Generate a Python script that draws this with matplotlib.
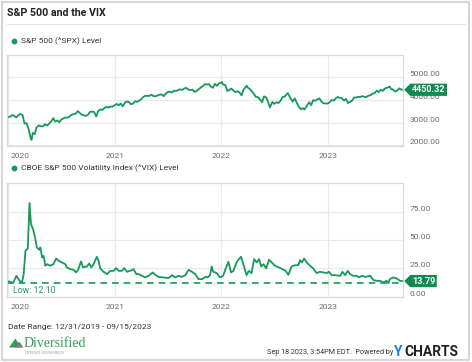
import matplotlib
matplotlib.use("Agg")
import matplotlib.pyplot as plt
import pandas as pd
from matplotlib.path import Path
from matplotlib.lines import Line2D
from matplotlib.patches import Rectangle, Polygon
from matplotlib.transforms import ScaledTranslation

plt.rcParams['font.family'] = ['Roboto', 'DejaVu Sans']

# S&P 500 level (roughly weekly)
spx_dates = [
    '2019-12-31', '2020-01-10', '2020-01-17', '2020-01-24', '2020-01-31', '2020-02-07', '2020-02-14',
    '2020-02-21', '2020-02-28', '2020-03-06', '2020-03-13', '2020-03-20', '2020-03-23', '2020-03-27',
    '2020-04-03', '2020-04-09', '2020-04-17', '2020-04-24', '2020-05-01', '2020-05-08', '2020-05-15',
    '2020-05-22', '2020-05-29', '2020-06-05', '2020-06-12', '2020-06-19', '2020-06-26', '2020-07-02',
    '2020-07-10', '2020-07-17', '2020-07-24', '2020-07-31', '2020-08-07', '2020-08-14', '2020-08-21',
    '2020-08-28', '2020-09-04', '2020-09-11', '2020-09-18', '2020-09-25', '2020-10-02', '2020-10-09',
    '2020-10-16', '2020-10-23', '2020-10-30', '2020-11-06', '2020-11-13', '2020-11-20', '2020-11-27',
    '2020-12-04', '2020-12-11', '2020-12-18', '2020-12-24', '2020-12-31',
    '2021-01-08', '2021-01-15', '2021-01-22', '2021-01-29', '2021-02-05', '2021-02-12', '2021-02-19',
    '2021-02-26', '2021-03-05', '2021-03-12', '2021-03-19', '2021-03-26', '2021-04-01', '2021-04-09',
    '2021-04-16', '2021-04-23', '2021-04-30', '2021-05-07', '2021-05-14', '2021-05-21', '2021-05-28',
    '2021-06-04', '2021-06-11', '2021-06-18', '2021-06-25', '2021-07-02', '2021-07-09', '2021-07-16',
    '2021-07-23', '2021-07-30', '2021-08-06', '2021-08-13', '2021-08-20', '2021-08-27', '2021-09-03',
    '2021-09-10', '2021-09-17', '2021-09-24', '2021-10-01', '2021-10-08', '2021-10-15', '2021-10-22',
    '2021-10-29', '2021-11-05', '2021-11-12', '2021-11-19', '2021-11-26', '2021-12-03', '2021-12-10',
    '2021-12-17', '2021-12-23', '2021-12-31',
    '2022-01-03', '2022-01-07', '2022-01-14', '2022-01-21', '2022-01-28', '2022-02-04', '2022-02-11',
    '2022-02-18', '2022-02-25', '2022-03-04', '2022-03-11', '2022-03-18', '2022-03-29', '2022-04-01',
    '2022-04-08', '2022-04-14', '2022-04-22', '2022-04-29', '2022-05-06', '2022-05-13', '2022-05-20',
    '2022-05-27', '2022-06-03', '2022-06-10', '2022-06-16', '2022-06-24', '2022-07-01', '2022-07-08',
    '2022-07-15', '2022-07-22', '2022-07-29', '2022-08-05', '2022-08-16', '2022-08-19', '2022-08-26',
    '2022-09-02', '2022-09-09', '2022-09-16', '2022-09-23', '2022-09-30', '2022-10-07', '2022-10-12',
    '2022-10-21', '2022-10-28', '2022-11-04', '2022-11-11', '2022-11-18', '2022-11-25', '2022-12-02',
    '2022-12-09', '2022-12-16', '2022-12-23', '2022-12-30',
    '2023-01-06', '2023-01-13', '2023-01-20', '2023-01-27', '2023-02-03', '2023-02-10', '2023-02-17',
    '2023-02-24', '2023-03-03', '2023-03-10', '2023-03-17', '2023-03-24', '2023-03-31', '2023-04-06',
    '2023-04-14', '2023-04-21', '2023-04-28', '2023-05-05', '2023-05-12', '2023-05-19', '2023-05-26',
    '2023-06-02', '2023-06-09', '2023-06-16', '2023-06-23', '2023-06-30', '2023-07-07', '2023-07-14',
    '2023-07-21', '2023-07-31', '2023-08-04', '2023-08-11', '2023-08-18', '2023-08-25', '2023-09-01',
    '2023-09-08', '2023-09-15',
]
spx_values = [
    3231, 3265, 3330, 3295, 3226, 3328, 3380,
    3338, 2954, 2972, 2711, 2305, 2237, 2541,
    2489, 2790, 2875, 2837, 2831, 2930, 2864,
    2955, 3044, 3194, 3041, 3098, 3009, 3130,
    3185, 3225, 3216, 3271, 3351, 3373, 3397,
    3508, 3427, 3341, 3319, 3298, 3348, 3477,
    3484, 3465, 3270, 3509, 3585, 3558, 3638,
    3699, 3663, 3709, 3703, 3756,
    3825, 3768, 3841, 3714, 3887, 3934, 3907,
    3811, 3842, 3943, 3913, 3975, 4020, 4129,
    4185, 4180, 4181, 4233, 4174, 4156, 4204,
    4230, 4247, 4166, 4281, 4352, 4370, 4327,
    4412, 4395, 4437, 4468, 4442, 4509, 4535,
    4459, 4433, 4455, 4357, 4391, 4471, 4545,
    4605, 4698, 4683, 4698, 4595, 4538, 4712,
    4620, 4726, 4766,
    4797, 4677, 4663, 4398, 4432, 4501, 4419,
    4349, 4385, 4329, 4204, 4463, 4631, 4546,
    4488, 4393, 4272, 4132, 4123, 4024, 3901,
    4158, 4109, 3901, 3667, 3912, 3825, 3899,
    3863, 3962, 4130, 4145, 4305, 4228, 4058,
    3924, 4067, 3873, 3693, 3586, 3640, 3577,
    3753, 3901, 3771, 3993, 3965, 4026, 4072,
    3934, 3852, 3845, 3840,
    3895, 3999, 3973, 4070, 4136, 4090, 4079,
    3970, 4046, 3862, 3917, 3971, 4109, 4105,
    4138, 4133, 4169, 4136, 4124, 4192, 4205,
    4282, 4299, 4410, 4348, 4450, 4399, 4505,
    4536, 4589, 4478, 4464, 4370, 4406, 4516,
    4457, 4450.32,
]

# CBOE VIX level
vix_dates = [
    '2019-12-31', '2020-01-10', '2020-01-20', '2020-01-31', '2020-02-11', '2020-02-19', '2020-02-25',
    '2020-03-02', '2020-03-10', '2020-03-16', '2020-03-21', '2020-03-28', '2020-04-05', '2020-04-10',
    '2020-04-18', '2020-04-22', '2020-04-28', '2020-05-03', '2020-05-09', '2020-05-15', '2020-05-26',
    '2020-06-06', '2020-06-15', '2020-06-23', '2020-07-05', '2020-07-16', '2020-07-22', '2020-08-02',
    '2020-08-14', '2020-08-22', '2020-08-29', '2020-09-08', '2020-09-15', '2020-09-23', '2020-09-28',
    '2020-10-06', '2020-10-13', '2020-10-21', '2020-11-01', '2020-11-07', '2020-11-13', '2020-11-24',
    '2020-12-06', '2020-12-17', '2020-12-29', '2021-01-06', '2021-01-15', '2021-01-26', '2021-02-03',
    '2021-02-12', '2021-02-23', '2021-03-07', '2021-03-16', '2021-03-24', '2021-04-04', '2021-04-16',
    '2021-04-27', '2021-05-11', '2021-05-20', '2021-05-31', '2021-06-17', '2021-07-04', '2021-07-16',
    '2021-07-27', '2021-08-08', '2021-08-19', '2021-08-31', '2021-09-11', '2021-09-22', '2021-10-04',
    '2021-10-15', '2021-10-27', '2021-11-07', '2021-11-15', '2021-11-23', '2021-11-29', '2021-12-04',
    '2021-12-16', '2021-12-27', '2022-01-07', '2022-01-15', '2022-01-25', '2022-02-03', '2022-02-11',
    '2022-02-22', '2022-02-28', '2022-03-09', '2022-03-17', '2022-03-28', '2022-04-05', '2022-04-14',
    '2022-04-23', '2022-05-02', '2022-05-10', '2022-05-17', '2022-05-25', '2022-06-03', '2022-06-13',
    '2022-06-22', '2022-07-03', '2022-07-17', '2022-07-28', '2022-08-09', '2022-08-18', '2022-08-29',
    '2022-09-12', '2022-09-21', '2022-09-27', '2022-10-03', '2022-10-11', '2022-10-20', '2022-10-31',
    '2022-11-11', '2022-11-23', '2022-12-04', '2022-12-16', '2022-12-27', '2023-01-04', '2023-01-13',
    '2023-01-25', '2023-02-11', '2023-02-19', '2023-02-28', '2023-03-09', '2023-03-17', '2023-03-28',
    '2023-04-09', '2023-04-17', '2023-04-26', '2023-05-08', '2023-05-25', '2023-06-05', '2023-06-16',
    '2023-06-27', '2023-07-09', '2023-07-20', '2023-07-26', '2023-07-31', '2023-08-12', '2023-08-23',
    '2023-09-04', '2023-09-15',
]
vix_values = [
    13.8, 13.1, 12.1, 18.4, 14.0, 12.4, 19.9,
    40.5, 42.5, 82.6, 64.0, 59.6, 50.8, 43.4,
    41.4, 43.4, 34.6, 36.0, 27.3, 28.7, 27.3,
    28.7, 33.7, 31.7, 30.2, 28.7, 25.8, 24.3,
    23.7, 21.4, 23.7, 31.1, 25.8, 26.7, 26.4,
    29.3, 25.8, 28.7, 35.2, 31.7, 24.9, 22.0,
    19.9, 22.8, 22.8, 25.2, 22.8, 22.8, 25.2,
    22.0, 22.8, 24.3, 19.9, 19.9, 18.4, 17.0,
    18.4, 21.4, 19.3, 17.5, 17.0, 16.4, 19.0,
    17.0, 18.4, 17.5, 19.0, 23.7, 22.0, 19.9,
    15.5, 15.5, 17.5, 17.0, 19.0, 26.7, 22.0,
    20.8, 17.0, 18.4, 24.3, 30.8, 21.4, 22.8,
    30.2, 32.6, 35.2, 28.7, 19.0, 22.8, 20.8,
    33.2, 30.2, 33.2, 26.7, 28.7, 24.9, 32.6,
    30.2, 27.3, 25.8, 24.3, 22.8, 19.3, 26.7,
    27.8, 27.8, 32.3, 30.2, 33.7, 30.2, 27.3,
    24.9, 20.8, 22.0, 21.4, 20.8, 22.0, 19.0,
    19.0, 18.4, 22.0, 19.0, 22.8, 19.9, 18.4,
    18.4, 17.0, 18.4, 17.5, 18.4, 14.6, 14.0,
    14.0, 12.6, 14.0, 12.0, 15.5, 17.0, 16.1,
    14.0, 13.79,
]

vix_low = 12.10
spx_ticks = [2000, 3000, 4000, 5000]
vix_ticks = [0, 25, 50, 75]
year_ticks = ['2020-01-01', '2021-01-01', '2022-01-01', '2023-01-01']
year_labels = ['2020', '2021', '2022', '2023']

green = '#16995a'
tag_green = '#0e8a52'
grid_col = '#e9e9e9'
text_gray = '#6b6b6b'

W, H = 472, 362


def fx(px):
    return px / W


def fy(py):
    return 1 - py / H


def tag_box(x0, y0, width, height, mutation_size):
    # rectangle with a pointed left side, like the ycharts value tag
    pad = mutation_size * 0.18
    x0, y0 = x0 - pad, y0 - pad
    w, h = width + 2 * pad, height + 2 * pad
    tip = h * 0.5
    verts = [(x0 - tip, y0 + h / 2), (x0, y0), (x0 + w, y0), (x0 + w, y0 + h),
             (x0, y0 + h), (x0 - tip, y0 + h / 2)]
    return Path(verts, closed=True)


fig = plt.figure(figsize=(4.72, 3.62), dpi=100)
fig.patch.set_facecolor('white')

# outer frame and title
fig.add_artist(Rectangle((fx(1.5), fy(360)), fx(467), 1 - fy(358.5), transform=fig.transFigure,
                         fill=False, ec='#d6d6d6', lw=1.5))
fig.text(fx(7), fy(13.5), 'S&P 500 and the VIX', fontsize=7.7, fontweight='bold',
         color='#222222', va='center', ha='left')
fig.add_artist(Line2D([fx(7), fx(465)], [fy(24), fy(24)], transform=fig.transFigure,
                      color='#e3e3e3', lw=0.8))

ax1 = fig.add_axes([fx(7.3), fy(146), fx(403.3) - fx(7.3), fy(54.7) - fy(146)])
ax2 = fig.add_axes([fx(7.3), fy(296.7), fx(403.3) - fx(7.3), fy(183.3) - fy(296.7)])

start = pd.Timestamp('2019-12-31')
end = pd.Timestamp('2023-09-15')

ax1.plot(pd.to_datetime(spx_dates), spx_values, color=green, lw=1.3, solid_joinstyle='round')
ax2.plot(pd.to_datetime(vix_dates), vix_values, color=green, lw=1.3, solid_joinstyle='round')
ax2.axhline(vix_low, color=green, lw=1.2, ls=(0, (4, 3)))

ax1.set_ylim(1965, 6000)
ax2.set_ylim(0, 100)

for ax, ticks in [(ax1, spx_ticks), (ax2, vix_ticks)]:
    ax.set_facecolor('white')
    ax.set_xlim(start, end)
    ax.set_xticks(pd.to_datetime(year_ticks))
    ax.set_xticklabels(year_labels)
    ax.set_yticks(ticks)
    ax.set_yticklabels([f'{t:.2f}' for t in ticks])
    ax.yaxis.tick_right()
    ax.tick_params(axis='both', length=0, labelsize=6, colors=text_gray)
    ax.tick_params(axis='y', pad=4.5)
    ax.tick_params(axis='x', pad=5)
    for lbl in ax.get_yticklabels():
        lbl.set_va('bottom')
    first = ax.get_xticklabels()[0]
    first.set_ha('left')
    first.set_transform(first.get_transform() + ScaledTranslation(2 / 72, 0, fig.dpi_scale_trans))
    ax.grid(True, color=grid_col, lw=0.9)
    ax.set_axisbelow(True)
    for s in ax.spines.values():
        s.set_color('#dadada')
        s.set_linewidth(0.9)

# value tags at the right edge
for ax, val in [(ax1, spx_values[-1]), (ax2, vix_values[-1])]:
    ax.annotate(f'{val:.2f}', xy=(1, val), xycoords=('axes fraction', 'data'),
                xytext=(6.2, 0), textcoords='offset points', ha='left', va='center',
                fontsize=6.5, fontweight='bold', color='white', zorder=10,
                bbox=dict(boxstyle=tag_box, fc=tag_green, ec='none'),
                annotation_clip=False)

ax2.text(0.015, vix_low - 2.5, f'Low: {vix_low:.2f}', transform=ax2.get_yaxis_transform(),
         ha='left', va='top', fontsize=6.3, color=green)

# legend lines
for py, label in [(41, 'S&P 500 (^SPX) Level'), (168, 'CBOE S&P 500 Volatility Index (^VIX) Level')]:
    fig.add_artist(Line2D([fx(14)], [fy(py)], transform=fig.transFigure, marker='o',
                          markersize=3.2, color=green, lw=0))
    fig.text(fx(21), fy(py), label, fontsize=6, color='#333333', va='center', ha='left')

# footer
fig.text(fx(7.5), fy(327.5), 'Date Range: 12/31/2019 - 09/15/2023', fontsize=6,
         color='#333333', va='center', ha='left')
fig.add_artist(Polygon([(fx(9), fy(347.5)), (fx(15.5), fy(338.5)), (fx(21), fy(347.5))],
                       closed=True, transform=fig.transFigure, fc='#2f9d57', ec='none'))
fig.add_artist(Polygon([(fx(15), fy(347.5)), (fx(19.2), fy(341.5)), (fx(23.5), fy(347.5))],
                       closed=True, transform=fig.transFigure, fc='#7b7b7b', ec='none'))
fig.text(fx(24), fy(343.5), 'Diversified', fontsize=10, family='Liberation Serif',
         color='#2f9d57', va='center', ha='left')
fig.text(fx(25), fy(352.5), 'EXPERIENCE LIFELONG WEALTH', fontsize=1.9, color='#999999',
         va='center', ha='left')
fig.text(fx(393), fy(352.5), 'Sep 18 2023, 3:54PM EDT.  Powered by', fontsize=5.2,
         color='#333333', va='center', ha='right')
fig.text(fx(394.5), fy(352), 'Y', fontsize=10, fontweight='bold', color='#1e7fe0',
         va='center', ha='left')
fig.text(fx(404), fy(352), 'CHARTS', fontsize=10, fontweight='bold', color='#222222',
         va='center', ha='left')

fig.savefig('out.png', dpi=100)
